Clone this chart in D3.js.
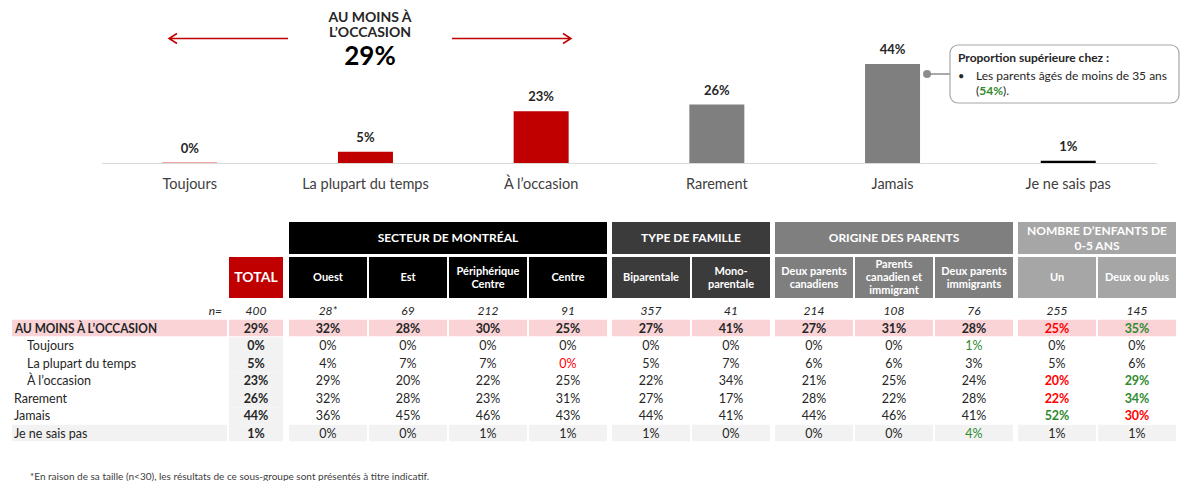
<!DOCTYPE html>
<html>
<head>
<meta charset="utf-8">
<script src="https://cdn.jsdelivr.net/npm/d3@7"></script>
<style>
body { margin: 0; background: #fff; }
svg { font-family: Lato, "Open Sans", sans-serif; }
</style>
</head>
<body>
<svg id="chart" width="1182" height="481"></svg>
<script>
// ---- data ----
var categories = ['Toujours', 'La plupart du temps', 'À l’occasion', 'Rarement', 'Jamais', 'Je ne sais pas'];
var totals = [0, 5, 23, 26, 44, 1];
var barColors = ['#c00000', '#c00000', '#c00000', '#7f7f7f', '#7f7f7f', '#000000'];
var atLeastLabel = ['AU MOINS À', 'L’OCCASION'];
var atLeastValue = 29;

var calloutTitle = 'Proportion supérieure chez :';
var calloutLines = ['Les parents âgés de moins de 35 ans', '(', '54%', ').'];

var groupLabels = ['SECTEUR DE MONTRÉAL', 'TYPE DE FAMILLE', 'ORIGINE DES PARENTS', 'NOMBRE D’ENFANTS DE|0-5 ANS'];
var groupColors = ['#000000', '#3b3b3b', '#7f7f7f', '#a6a6a6'];
var columnLabels = ['Ouest', 'Est', 'Périphérique|Centre', 'Centre', 'Biparentale', 'Mono-|parentale',
    'Deux parents|canadiens', 'Parents|canadien et|immigrant', 'Deux parents|immigrants', 'Un', 'Deux ou plus'];
var columnGroups = [0, 0, 0, 0, 1, 1, 2, 2, 2, 3, 3];

// first value is TOTAL
var nValues = ['400', '28*', '69', '212', '91', '357', '41', '214', '108', '76', '255', '145'];
var rowLabels = ['AU MOINS À L’OCCASION', 'Toujours', 'La plupart du temps', 'À l’occasion', 'Rarement', 'Jamais', 'Je ne sais pas'];
var rowIndent = [0, 1, 1, 1, 0, 0, 0];
var rowValues = [
    [29, 32, 28, 30, 25, 27, 41, 27, 31, 28, 25, 35],
    [0, 0, 0, 0, 0, 0, 0, 0, 0, 1, 0, 0],
    [5, 4, 7, 7, 0, 5, 7, 6, 6, 3, 5, 6],
    [23, 29, 20, 22, 25, 22, 34, 21, 25, 24, 20, 29],
    [26, 32, 28, 23, 31, 27, 17, 28, 22, 28, 22, 34],
    [44, 36, 45, 46, 43, 44, 41, 44, 46, 41, 52, 30],
    [1, 0, 0, 1, 1, 1, 0, 0, 0, 4, 1, 1]
];
// + / - significantly higher / lower (bold), p / m same but regular weight
var rowSignif = [
    '          -+',
    '         p  ',
    '    m       ',
    '          -+',
    '          -+',
    '          +-',
    '         p  '
];
var footnote = '*En raison de sa taille (n<30), les résultats de ce sous-groupe sont présentés à titre indicatif.';

// ---- chart ----
var svg = d3.select('#chart');
var textColor = '#262626';
var red = '#c00000', green = '#2e8b2e', sigRed = '#ff0000';

var x = d3.scaleBand()
    .domain(categories)
    .range([102, 1156])
    .paddingInner(0.687)
    .paddingOuter(0.343);
var y = d3.scaleLinear().domain([0, 44]).range([163, 64]);

svg.append('line')
    .attr('x1', 102).attr('x2', 1157)
    .attr('y1', y(0) + 0.5).attr('y2', y(0) + 0.5)
    .attr('stroke', '#d9d9d9');

var bars = svg.append('g').selectAll('g')
    .data(categories)
    .enter().append('g');

bars.append('rect')
    .attr('x', function (d) { return x(d); })
    .attr('width', x.bandwidth())
    .attr('y', function (d, i) { return totals[i] ? y(totals[i]) : y(0) - 1; })
    .attr('height', function (d, i) { return totals[i] ? y(0) - y(totals[i]) : 1; })
    .attr('fill', function (d, i) { return totals[i] ? barColors[i] : '#f0a8a8'; });

bars.append('text')
    .attr('x', function (d) { return x(d) + x.bandwidth() / 2; })
    .attr('y', function (d, i) { return y(totals[i]) - 10; })
    .attr('text-anchor', 'middle')
    .attr('font-size', 13).attr('font-weight', 'bold')
    .attr('fill', textColor)
    .text(function (d, i) { return totals[i] + '%'; });

bars.append('text')
    .attr('x', function (d) { return x(d) + x.bandwidth() / 2; })
    .attr('y', 189)
    .attr('text-anchor', 'middle')
    .attr('font-size', 14.5)
    .attr('fill', '#404040')
    .text(function (d) { return d; });

// heading with arrows
var head = svg.append('g');
head.selectAll('text.h').data(atLeastLabel).enter().append('text')
    .attr('x', 370).attr('y', function (d, i) { return 22 + i * 15; })
    .attr('text-anchor', 'middle').attr('font-size', 14).attr('font-weight', 'bold')
    .attr('fill', textColor).text(function (d) { return d; });
head.append('text')
    .attr('x', 370).attr('y', 65)
    .attr('text-anchor', 'middle').attr('font-size', 26).attr('font-weight', 'bold')
    .attr('fill', '#000').text(atLeastValue + '%');

function arrow(x1, x2) {
    var dir = x2 > x1 ? -1 : 1;
    head.append('path')
        .attr('d', 'M' + x1 + ',38.5H' + x2 + 'M' + (x2 + dir * 8) + ',33.5L' + x2 + ',38.5L' + (x2 + dir * 8) + ',43.5')
        .attr('fill', 'none').attr('stroke', red).attr('stroke-width', 1.5);
}
arrow(288, 169);
arrow(452, 571);

// callout
var jx = x('Jamais') + x.bandwidth();
var co = svg.append('g');
co.append('line').attr('x1', jx + 7).attr('x2', 950).attr('y1', 74).attr('y2', 74)
    .attr('stroke', '#8c8c8c').attr('stroke-width', 1.5);
co.append('circle').attr('cx', jx + 7).attr('cy', 74).attr('r', 4).attr('fill', '#8c8c8c');
co.append('rect').attr('x', 950).attr('y', 45).attr('width', 229).attr('height', 58)
    .attr('rx', 8).attr('fill', '#fff').attr('stroke', '#a6a6a6').attr('stroke-width', 1.2);
co.append('text').attr('x', 958).attr('y', 62).attr('font-size', 12).attr('font-weight', 'bold')
    .attr('fill', textColor).text(calloutTitle);
co.append('text').attr('x', 958).attr('y', 80).attr('font-size', 11).attr('fill', textColor).text('•');
co.append('text').attr('x', 976).attr('y', 80).attr('font-size', 12).attr('fill', textColor).text(calloutLines[0]);
var l2 = co.append('text').attr('x', 976).attr('y', 95).attr('font-size', 12).attr('fill', textColor);
l2.append('tspan').text(calloutLines[1]);
l2.append('tspan').attr('fill', green).attr('font-weight', 'bold').text(calloutLines[2]);
l2.append('tspan').text(calloutLines[3]);

// ---- table ----
var colW = 78, totalX = 229, totalW = 54;
var colX = [];
var cx = 289;
columnLabels.forEach(function (c, i) {
    if (i > 0) { cx += colW + (columnGroups[i] !== columnGroups[i - 1] ? 5 : 2); }
    colX.push(cx);
});
var cellX = [totalX].concat(colX);
var cellW = [totalW].concat(columnLabels.map(function () { return colW; }));

var tbl = svg.append('g');

// group headers
groupLabels.forEach(function (g, gi) {
    var idx = columnGroups.map(function (v, i) { return v === gi ? i : -1; }).filter(function (i) { return i >= 0; });
    var gx = colX[idx[0]], gw = colX[idx[idx.length - 1]] + colW - gx;
    tbl.append('rect').attr('x', gx).attr('y', 222).attr('width', gw).attr('height', 32).attr('fill', groupColors[gi]);
    var lines = g.split('|');
    tbl.append('g').selectAll('text').data(lines).enter().append('text')
        .attr('x', gx + gw / 2)
        .attr('y', function (d, i) { return 242 - (lines.length - 1) * 7 + i * 15; })
        .attr('text-anchor', 'middle').attr('font-size', 12).attr('font-weight', 'bold')
        .attr('fill', '#fff').text(function (d) { return d; });
});

// sub headers
tbl.append('rect').attr('x', totalX).attr('y', 257).attr('width', totalW).attr('height', 41).attr('fill', red);
tbl.append('text').attr('x', totalX + totalW / 2).attr('y', 282).attr('text-anchor', 'middle')
    .attr('font-size', 14).attr('font-weight', 'bold').attr('fill', '#fff').text('TOTAL');
columnLabels.forEach(function (c, i) {
    tbl.append('rect').attr('x', colX[i]).attr('y', 257).attr('width', colW).attr('height', 41)
        .attr('fill', groupColors[columnGroups[i]]);
    var lines = c.split('|');
    tbl.append('g').selectAll('text').data(lines).enter().append('text')
        .attr('x', colX[i] + colW / 2)
        .attr('y', function (d, k) { return 281 - (lines.length - 1) * 6.5 + k * 13; })
        .attr('text-anchor', 'middle').attr('font-size', 11).attr('font-weight', 'bold')
        .attr('fill', '#fff').text(function (d) { return d; });
});

// n row
var rowH = 17.5, nY = 311;
tbl.append('text').attr('x', 222).attr('y', nY + 4).attr('text-anchor', 'end')
    .attr('font-size', 12).attr('font-style', 'italic').attr('fill', textColor).text('n=');
tbl.append('g').selectAll('text').data(nValues).enter().append('text')
    .attr('x', function (d, i) { return cellX[i] + cellW[i] / 2; })
    .attr('y', nY + 4).attr('text-anchor', 'middle')
    .attr('font-size', 12).attr('font-style', 'italic').attr('fill', textColor)
    .text(function (d) { return d; });

// row backgrounds
rowLabels.forEach(function (r, ri) {
    var cy = nY + (ri + 1) * rowH;
    var bg = ri === 0 ? '#f9d3d6' : (ri === rowLabels.length - 1 ? '#f2f2f2' : null);
    if (bg) {
        tbl.append('rect').attr('x', 12).attr('y', cy - rowH / 2).attr('width', 215).attr('height', rowH - 1).attr('fill', bg);
        cellX.forEach(function (xx, ci) {
            tbl.append('rect').attr('x', xx).attr('y', cy - rowH / 2).attr('width', cellW[ci]).attr('height', rowH - 1).attr('fill', bg);
        });
    } else {
        tbl.append('rect').attr('x', totalX).attr('y', cy - rowH / 2).attr('width', totalW).attr('height', rowH).attr('fill', '#f2f2f2');
    }
});

// row labels and values
rowLabels.forEach(function (r, ri) {
    var cy = nY + (ri + 1) * rowH;
    var lbl = tbl.append('text').attr('x', rowIndent[ri] ? 27 : (ri === 0 ? 15 : 14)).attr('y', cy + 4)
        .attr('font-size', 12.5).attr('font-weight', ri === 0 ? 'bold' : 'normal')
        .attr('fill', textColor).text(r);
    if (ri === 0) { lbl.attr('textLength', 142).attr('lengthAdjust', 'spacingAndGlyphs'); }
    tbl.append('g').selectAll('text').data(rowValues[ri]).enter().append('text')
        .attr('x', function (d, i) { return cellX[i] + cellW[i] / 2; })
        .attr('y', cy + 4).attr('text-anchor', 'middle')
        .attr('font-size', 12.5)
        .attr('font-weight', function (d, i) {
            var s = rowSignif[ri].charAt(i);
            return (ri === 0 || i === 0 || s === '+' || s === '-') ? 'bold' : 'normal';
        })
        .attr('fill', function (d, i) {
            var s = rowSignif[ri].charAt(i);
            return (s === '+' || s === 'p') ? green : ((s === '-' || s === 'm') ? sigRed : textColor);
        })
        .text(function (d) { return d + '%'; });
});

svg.append('text').attr('x', 30).attr('y', 480).attr('font-size', 10).attr('fill', '#404040').text(footnote);
</script>
</body>
</html>
